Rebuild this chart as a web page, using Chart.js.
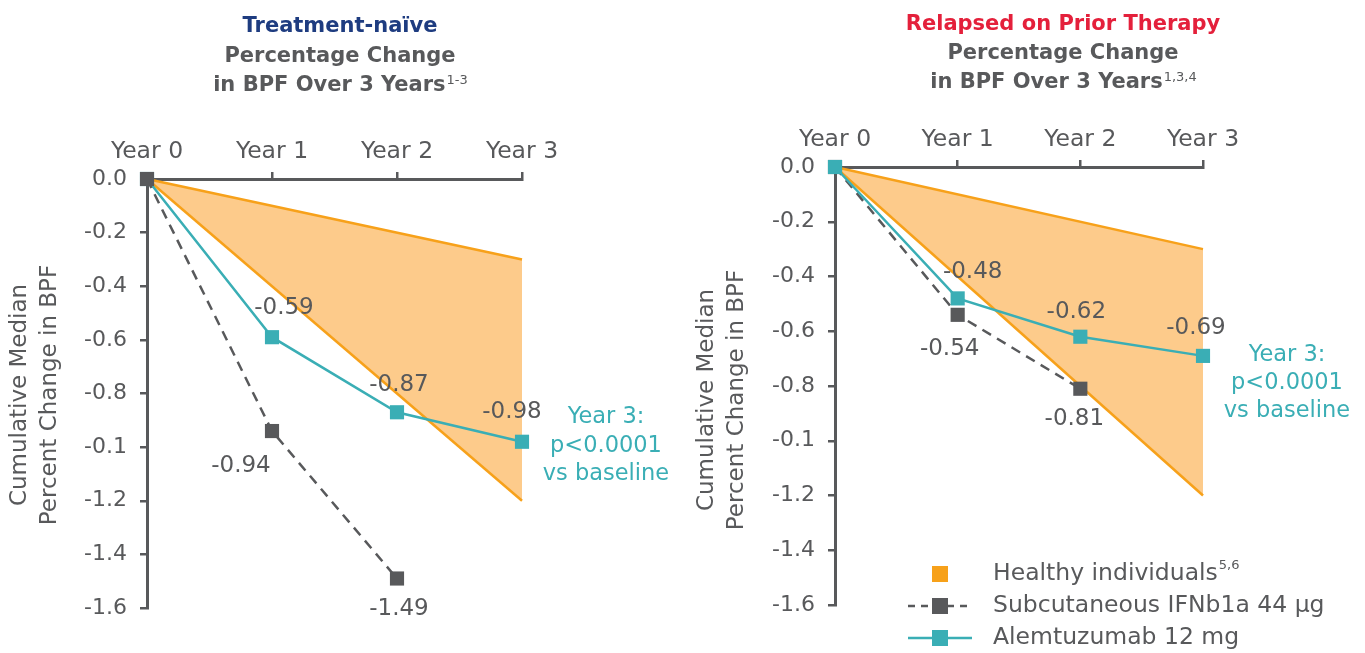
<!DOCTYPE html>
<html><head><meta charset="utf-8">
<script src="https://cdn.jsdelivr.net/npm/chart.js@4.4.1/dist/chart.umd.min.js"></script>
<style>
html,body{margin:0;padding:0;background:#fff}
body{width:1365px;height:653px;overflow:hidden;position:relative}
.box{position:absolute;top:0;height:653px}
</style></head><body>
<div class="box" style="left:0;width:683px"><canvas id="c1"></canvas></div>
<div class="box" style="left:683px;width:682px"><canvas id="c2"></canvas></div>
<script>
// ---------- data ----------
const years = ['Year 0', 'Year 1', 'Year 2', 'Year 3'];
const yTickLabels = ['0.0', '-0.2', '-0.4', '-0.6', '-0.8', '-0.1', '-1.2', '-1.4', '-1.6'];

const naiveAlemtuzumab = [0, -0.59, -0.87, -0.98];
const naiveIFN = [0, -0.94, -1.49];
const naiveHealthyUpper = [0, -0.3];   // Year 0, Year 3
const naiveHealthyLower = [0, -1.2];   // Year 0, Year 3

const relapsedAlemtuzumab = [0, -0.48, -0.62, -0.69];
const relapsedIFN = [0, -0.54, -0.81];
const relapsedHealthyUpper = [0, -0.3];
const relapsedHealthyLower = [0, -1.2];

const seriesNames = ['Healthy individuals', 'Subcutaneous IFNb1a 44 \u00b5g', 'Alemtuzumab 12 mg'];

// ---------- styles ----------
const FONT = '"DejaVu Sans", sans-serif';
const GREY = '#58595B';
const TEAL = '#3AAEB5';
const ORANGE = '#F7A11A';
const ORANGE_FILL = '#FDCB8B';
const BLUE = '#1E3C80';
const RED = '#E4203B';

const extras = {
  id: 'extras',
  afterDatasetsDraw(chart, args, o) {
    const ctx = chart.ctx;
    ctx.save();
    ctx.font = `${o.labelSize}px ${FONT}`;
    ctx.fillStyle = GREY;
    ctx.textAlign = 'center';
    ctx.textBaseline = 'middle';
    o.labels.forEach(l => {
      const pt = chart.getDatasetMeta(l.ds).data[l.i];
      const v = chart.data.datasets[l.ds].data[l.i];
      ctx.fillText(v.toFixed(2), pt.x + l.dx, pt.y + l.dy);
    });
    ctx.restore();
  },
  afterDraw(chart, args, o) {
    const ctx = chart.ctx;
    const ca = chart.chartArea;
    ctx.save();
    // titles
    o.title.forEach(t => {
      ctx.font = `${t.weight} ${o.titleSize}px ${FONT}`;
      const w = ctx.measureText(t.text).width;
      let sw = 0;
      if (t.sup) { ctx.font = `normal ${o.supSize}px ${FONT}`; sw = ctx.measureText(t.sup).width; }
      const x0 = o.titleX - (w + sw) / 2;
      ctx.textAlign = 'left';
      ctx.textBaseline = 'alphabetic';
      ctx.fillStyle = t.color;
      ctx.font = `${t.weight} ${o.titleSize}px ${FONT}`;
      ctx.fillText(t.text, x0, t.y);
      if (t.sup) {
        ctx.font = `normal ${o.supSize}px ${FONT}`;
        ctx.fillText(t.sup, x0 + w + 1, t.y - 7);
      }
    });
    // y axis title
    ctx.save();
    ctx.translate(0, o.yTitleY);
    ctx.rotate(-Math.PI / 2);
    ctx.font = `${o.yTitleSize}px ${FONT}`;
    ctx.fillStyle = GREY;
    ctx.textAlign = 'center';
    ctx.textBaseline = 'middle';
    o.yTitle.forEach((line, k) => ctx.fillText(line, 0, o.yTitleX[k]));
    ctx.restore();
    // annotation
    ctx.font = `${o.textSize}px ${FONT}`;
    ctx.fillStyle = TEAL;
    ctx.textAlign = 'center';
    ctx.textBaseline = 'middle';
    o.note.lines.forEach((line, k) => ctx.fillText(line, ca.right + o.note.dx, o.note.ys[k]));
    // legend
    if (o.legend) {
      const L = o.legend;
      const items = [
        { name: seriesNames[0], sup: '5,6', color: ORANGE, line: null },
        { name: seriesNames[1], color: GREY, line: GREY, dash: [7, 6] },
        { name: seriesNames[2], color: TEAL, line: TEAL, dash: [] }
      ];
      items.forEach((it, k) => {
        const y = L.ys[k];
        if (it.line) {
          ctx.strokeStyle = it.line;
          ctx.lineWidth = 2.5;
          ctx.setLineDash(it.dash);
          ctx.beginPath();
          ctx.moveTo(L.x - L.lineHalf, y);
          ctx.lineTo(L.x + L.lineHalf, y);
          ctx.stroke();
          ctx.setLineDash([]);
        }
        ctx.fillStyle = it.color;
        ctx.fillRect(L.x - L.box / 2, y - L.box / 2, L.box, L.box);
        ctx.fillStyle = GREY;
        ctx.font = `${L.size}px ${FONT}`;
        ctx.textAlign = 'left';
        ctx.textBaseline = 'middle';
        ctx.fillText(it.name, L.textX, y);
        if (it.sup) {
          const w = ctx.measureText(it.name).width;
          ctx.font = `${o.supSize}px ${FONT}`;
          ctx.fillText(it.sup, L.textX + w + 1, y - 8);
        }
      });
    }
    ctx.restore();
  }
};

function makeChart(id, alem, ifn, hUp, hLow, geom, extraOpts, alemOnTop) {
  const ctx = document.getElementById(id);
  return new Chart(ctx, {
    type: 'line',
    data: {
      labels: years,
      datasets: [
        { label: seriesNames[2], data: alem, borderColor: TEAL, backgroundColor: TEAL,
          borderWidth: 2.5, pointStyle: 'rect', pointRadius: 10, pointBorderWidth: 0,
          pointBackgroundColor: TEAL, fill: false, clip: false, order: alemOnTop ? 0 : 1 },
        { label: seriesNames[1], data: ifn, borderColor: GREY, backgroundColor: GREY,
          borderWidth: 2.5, borderDash: [10, 7], pointStyle: 'rect', pointRadius: 10, pointBorderWidth: 0,
          pointBackgroundColor: GREY, fill: false, clip: false, order: alemOnTop ? 1 : 0 },
        { label: seriesNames[0] + ' upper', data: [{ x: years[0], y: hUp[0] }, { x: years[3], y: hUp[1] }],
          borderColor: ORANGE, backgroundColor: ORANGE_FILL, borderWidth: 2.5, pointRadius: 0,
          fill: '+1', clip: false, order: 10 },
        { label: seriesNames[0] + ' lower', data: [{ x: years[0], y: hLow[0] }, { x: years[3], y: hLow[1] }],
          borderColor: ORANGE, backgroundColor: ORANGE_FILL, borderWidth: 2.5, pointRadius: 0,
          fill: false, clip: false, order: 9 }
      ]
    },
    options: {
      responsive: true,
      maintainAspectRatio: false,
      animation: false,
      events: [],
      layout: { padding: { left: 0, top: 0, right: geom.right, bottom: geom.bottom } },
      scales: {
        x: {
          type: 'category', position: 'top', offset: false,
          grid: { drawOnChartArea: false, drawTicks: true, tickLength: 7, color: GREY, lineWidth: 2.5 },
          border: { display: true, color: GREY, width: 3 },
          ticks: { color: GREY, font: { family: FONT, size: 23.5 }, padding: 6, autoSkip: false, maxRotation: 0 },
          afterFit: s => { s.height = geom.top; }
        },
        y: {
          type: 'linear', min: -1.6, max: 0,
          grid: { drawOnChartArea: false, drawTicks: true, tickLength: 7, color: GREY, lineWidth: 2.5 },
          border: { display: true, color: GREY, width: 3 },
          ticks: {
            stepSize: 0.2, color: GREY, font: { family: FONT, size: 22 }, padding: 13,
            callback: v => yTickLabels[Math.round(-v / 0.2)]
          },
          afterFit: s => { s.width = geom.left; }
        }
      },
      plugins: {
        legend: { display: false },
        tooltip: { enabled: false },
        extras: extraOpts
      }
    },
    plugins: [extras]
  });
}

makeChart('c1', naiveAlemtuzumab, naiveIFN, naiveHealthyUpper, naiveHealthyLower,
  { left: 147, top: 179, right: 161, bottom: 45 },
  {
    labelSize: 23, titleSize: 21, supSize: 13, textSize: 22.5, yTitleSize: 23,
    titleX: 340,
    title: [
      { text: 'Treatment-na\u00efve', color: BLUE, weight: 'bold', y: 32 },
      { text: 'Percentage Change', color: GREY, weight: 'bold', y: 62 },
      { text: 'in BPF Over 3 Years', sup: '1-3', color: GREY, weight: 'bold', y: 91 }
    ],
    yTitle: ['Cumulative Median', 'Percent Change in BPF'],
    yTitleX: [20, 50], yTitleY: 395,
    note: { lines: ['Year 3:', 'p<0.0001', 'vs baseline'], dx: 84, ys: [417, 446, 474] },
    labels: [
      { ds: 0, i: 1, dx: 12, dy: -29 },
      { ds: 0, i: 2, dx: 2, dy: -27 },
      { ds: 0, i: 3, dx: -10, dy: -30 },
      { ds: 1, i: 1, dx: -31, dy: 35 },
      { ds: 1, i: 2, dx: 2, dy: 31 }
    ]
  }, false);

makeChart('c2', relapsedAlemtuzumab, relapsedIFN, relapsedHealthyUpper, relapsedHealthyLower,
  { left: 152, top: 167, right: 162, bottom: 48 },
  {
    labelSize: 23, titleSize: 21, supSize: 13, textSize: 22.5, yTitleSize: 23,
    titleX: 380,
    title: [
      { text: 'Relapsed on Prior Therapy', color: RED, weight: 'bold', y: 30 },
      { text: 'Percentage Change', color: GREY, weight: 'bold', y: 59 },
      { text: 'in BPF Over 3 Years', sup: '1,3,4', color: GREY, weight: 'bold', y: 88 }
    ],
    yTitle: ['Cumulative Median', 'Percent Change in BPF'],
    yTitleX: [24, 54], yTitleY: 400,
    note: { lines: ['Year 3:', 'p<0.0001', 'vs baseline'], dx: 84, ys: [355, 383, 411] },
    labels: [
      { ds: 0, i: 1, dx: 15, dy: -26 },
      { ds: 0, i: 2, dx: -4, dy: -25 },
      { ds: 0, i: 3, dx: -7, dy: -28 },
      { ds: 1, i: 1, dx: -8, dy: 34 },
      { ds: 1, i: 2, dx: -6, dy: 30 }
    ],
    legend: { x: 257, lineHalf: 32, box: 16, textX: 310, size: 23.5, ys: [574, 606, 638] }
  }, true);
</script>
</body></html>
